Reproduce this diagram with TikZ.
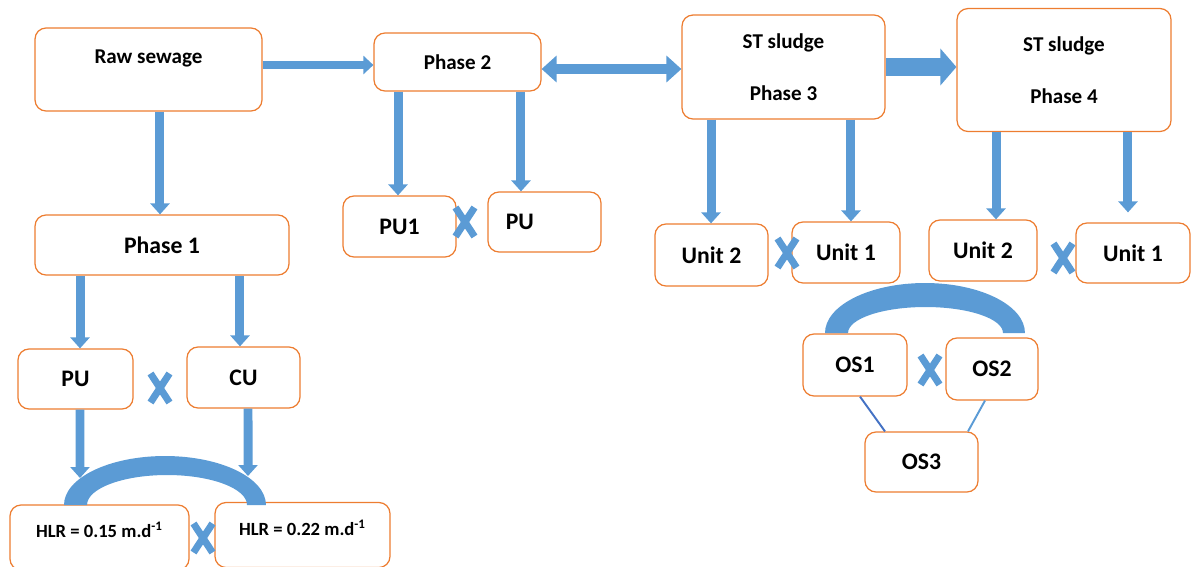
\documentclass[tikz,border=0pt]{standalone}
\usepackage{fontspec}
\setmainfont{Carlito}
\usetikzlibrary{arrows.meta, shapes.misc}

\definecolor{boxorange}{HTML}{ED7D31}
\definecolor{flowblue}{HTML}{5B9BD5}
\definecolor{linkblue}{HTML}{4472C4}

\begin{document}
\begin{tikzpicture}[
    x=0.02cm, y=-0.02cm,
    box/.style={rectangle, draw=boxorange, line width=0.7pt, rounded corners=0.22cm, fill=white, align=center, font=\bfseries\fontsize{13.5}{16}\selectfont},
    topbox/.style={box, font=\bfseries\fontsize{12}{14.4}\selectfont},
    hlrbox/.style={box, minimum height=1.3cm, text depth=0.3cm, font=\bfseries\fontsize{10.6}{13}\selectfont},
    flow/.style={draw=flowblue, line width=0.18cm, -{Triangle[length=0.22cm, width=0.38cm]}},
    xmark/.style={cross out, draw=flowblue, line width=0.14cm, minimum width=0.24cm, minimum height=0.44cm, inner sep=0pt}
]
    \useasboundingbox (0,0) rectangle (1191,566);

    % top row
    \node[topbox, minimum width=4.54cm, minimum height=1.66cm, text depth=0.5cm] (raw) at (148.5,69.5) {Raw sewage};
    \node[topbox, minimum width=3.34cm, minimum height=1.16cm] (p2) at (457.5,62) {Phase 2};
    \node[topbox, minimum width=4.06cm, minimum height=2.08cm] (p3) at (783.5,67) {ST sludge\\[15pt]Phase 3};
    \node[topbox, minimum width=4.28cm, minimum height=2.46cm] (p4) at (1064,70) {ST sludge\\[15pt]Phase 4};

    % phase 1 branch
    \node[box, minimum width=5.08cm, minimum height=1.2cm] (ph1) at (162,245) {Phase 1};
    \node[box, minimum width=2.3cm, minimum height=1.2cm] (pua) at (75.5,379) {PU};
    \node[box, minimum width=2.26cm, minimum height=1.22cm] (cu) at (243.5,377.5) {CU};
    \node[hlrbox, minimum width=3.58cm] (hlr1) at (99.5,537.5) {HLR = 0.15 m.d\textsuperscript{-1}};
    \node[hlrbox, minimum width=3.5cm] (hlr2) at (302.5,535) {HLR = 0.22 m.d\textsuperscript{-1}};

    % phase 2 branch
    \node[box, minimum width=2.26cm, minimum height=1.22cm] (pu1) at (399.5,226.5) {PU1};
    \node[box, minimum width=2.26cm, minimum height=1.2cm, text width=1.55cm, align=left] (pub) at (544.5,222) {PU};

    % phase 3 and 4 units
    \node[box, minimum width=2.26cm, minimum height=1.24cm] (u2a) at (711.5,255) {Unit 2};
    \node[box, minimum width=2.16cm, minimum height=1.22cm] (u1a) at (846,252.5) {Unit 1};
    \node[box, minimum width=2.16cm, minimum height=1.22cm] (u2b) at (983,250.5) {Unit 2};
    \node[box, minimum width=2.28cm, minimum height=1.2cm] (u1b) at (1133,253) {Unit 1};

    \node[box, minimum width=2.08cm, minimum height=1.24cm] (os1) at (855,365) {OS1};
    \node[box, minimum width=1.84cm, minimum height=1.24cm] (os2) at (992,369) {OS2};
    \node[box, minimum width=2.26cm, minimum height=1.2cm] (os3) at (921.5,462) {OS3};

    % crosses
    \node[xmark] (x1) at (160,388) {};
    \node[xmark] (x2) at (203,538) {};
    \node[xmark] (x3) at (465,222) {};
    \node[xmark] (x4) at (787,253) {};
    \node[xmark] (x5) at (1063,258) {};
    \node[xmark] (x6) at (930,370) {};

    % joining arcs
    \fill[flowblue] (64,505) arc[start angle=180, end angle=0, x radius=2.02cm, y radius=0.98cm]
        -- (247,505) arc[start angle=0, end angle=180, x radius=1.6cm, y radius=0.6cm] -- cycle;
    \fill[flowblue] (825,333) arc[start angle=180, end angle=0, x radius=2cm, y radius=1cm]
        -- (1003,333) arc[start angle=0, end angle=180, x radius=1.55cm, y radius=0.52cm] -- cycle;
    \coordinate (arcl1) at (80,478);
    \coordinate (arcl2) at (248,476);

    % flows
    \draw[flow, line width=0.16cm, -{Triangle[length=0.2cm, width=0.36cm]}] ([yshift=0.09cm]raw.east) -- ([yshift=0.09cm]raw.east -| p2.west);
    \draw[flow] ([xshift=0.23cm]raw.south) -- ([xshift=0.23cm]raw.south |- ph1.north);
    \draw[flow] ([xshift=-1.19cm]p2.south) -- ([xshift=-1.19cm]p2.south |- pu1.north);
    \draw[flow] ([xshift=1.27cm]p2.south) -- ([xshift=1.27cm]p2.south |- pub.north);
    \draw[flow, line width=0.2cm, {Triangle[length=0.3cm, width=0.52cm]}-{Triangle[length=0.3cm, width=0.52cm]}] ([yshift=-0.14cm]p2.east) -- ([yshift=-0.14cm]p2.east -| p3.west);
    \draw[flow, line width=0.37cm, -{Triangle[length=0.32cm, width=0.72cm]}] (p3.east) -- (p3.east -| p4.west);
    \draw[flow] ([xshift=-1.45cm]p3.south) -- ([xshift=-1.45cm]p3.south |- u2a.north);
    \draw[flow] ([xshift=1.35cm]p3.south) -- ([xshift=1.35cm]p3.south |- u1a.north);
    \draw[flow] ([xshift=-1.36cm]p4.south) -- ([xshift=-1.36cm]p4.south |- u2b.north);
    \draw[flow, shorten >=0.2cm] ([xshift=1.28cm]p4.south) -- ([xshift=1.28cm]p4.south |- u1b.north);
    \draw[flow] ([xshift=-1.64cm]ph1.south) -- ([xshift=-1.64cm]ph1.south |- pua.north);
    \draw[flow] ([xshift=1.56cm]ph1.south) -- ([xshift=1.56cm]ph1.south |- cu.north);
    \draw[flow] ([xshift=0.09cm]pua.south) -- (arcl1);
    \draw[flow] ([xshift=0.09cm]cu.south) -- (arcl2);

    % links to OS3
    \draw[linkblue, line width=1.1pt] ([xshift=0.1cm]os1.south) -- ([xshift=-0.73cm]os3.north);
    \draw[flowblue, line width=1.1pt] ([xshift=-0.14cm]os2.south) -- ([xshift=0.93cm]os3.north);
\end{tikzpicture}
\end{document}
